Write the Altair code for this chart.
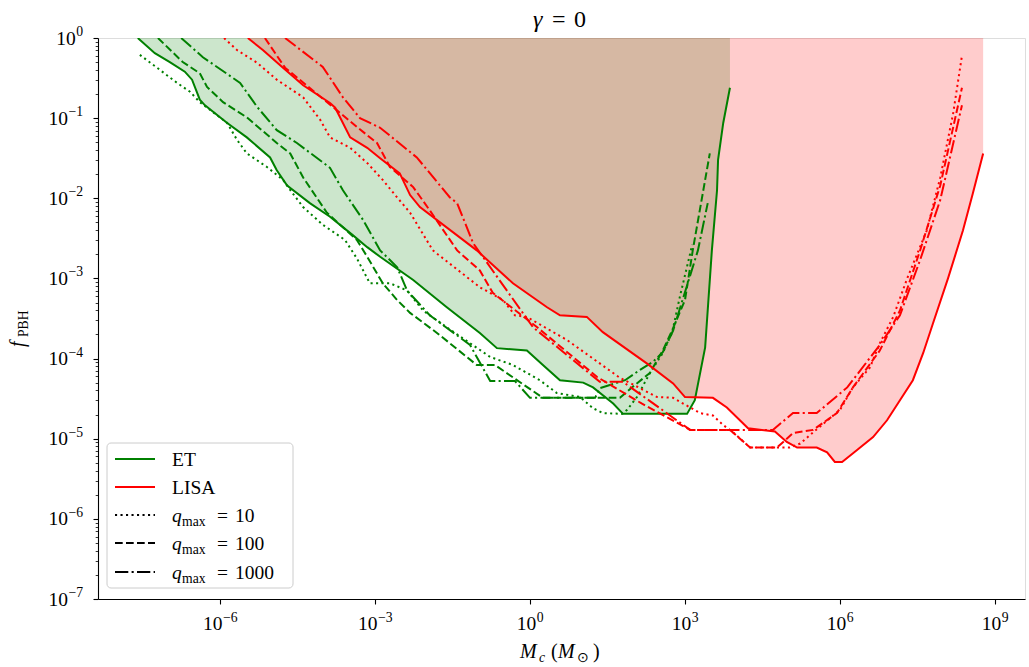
import altair as alt
import pandas as pd

GREEN = "#008000"
RED = "#ff0000"
SERIF = "Liberation Serif"

# Each curve is stored as log10(M_c / M_sun) and log10(f_PBH)
et_solid_logm = [-7.59, -7.26, -6.97, -6.68, -6.54, -6.39, -6.29, -5.86, -5.48, -5.03, -4.90, -4.70,
                 -4.26, -3.87, -3.43, -3.15, -2.90, -2.26, -1.61, -0.97, -0.64, -0.06, 0.25, 0.58,
                 1.03, 1.22, 1.61, 1.80, 3.04, 3.19, 3.39, 3.52, 3.62, 3.64, 3.74, 3.87]
et_solid_logf = [0.0, -0.19, -0.30, -0.42, -0.52, -0.77, -0.84, -1.06, -1.24, -1.49, -1.65, -1.84,
                 -2.06, -2.23, -2.46, -2.61, -2.73, -3.02, -3.36, -3.68, -3.87, -3.90, -4.08, -4.27,
                 -4.30, -4.36, -4.56, -4.69, -4.69, -4.52, -3.86, -2.65, -1.90, -1.52, -1.06, -0.62]

et_q10_logm = [-7.55, -7.22, -6.83, -6.58, -6.39, -5.86, -5.67, -5.48, -5.09, -4.78, -4.59, -4.39,
               -4.01, -3.58, -3.35, -3.10, -2.71, -2.38, -2.07, -1.61, -0.77, -0.33, 0.19, 0.52,
               0.97, 1.22, 1.41, 1.78, 1.88, 2.07, 2.32, 2.57, 2.75, 2.90, 3.14]
et_q10_logf = [-0.21, -0.37, -0.56, -0.67, -0.80, -1.06, -1.27, -1.44, -1.61, -1.77, -1.94, -2.11,
               -2.33, -2.52, -2.75, -3.06, -3.06, -3.15, -3.40, -3.61, -3.98, -4.08, -4.27, -4.43,
               -4.48, -4.62, -4.68, -4.69, -4.64, -4.48, -4.18, -3.93, -3.68, -3.23, -2.58]

et_q100_logm = [-7.20, -6.72, -6.39, -6.25, -5.94, -5.48, -4.90, -4.64, -4.39, -3.93, -3.35, -3.15,
                -2.85, -2.57, -2.32, -1.80, -1.03, -0.68, 0.25, 1.74, 2.03, 2.32, 2.57, 2.75,
                3.00, 3.15, 3.48]
et_q100_logf = [0.0, -0.30, -0.44, -0.61, -0.80, -0.99, -1.31, -1.44, -1.74, -2.18, -2.52, -2.73,
                -3.06, -3.27, -3.43, -3.68, -4.08, -4.08, -4.49, -4.49, -4.33, -4.18, -3.90, -3.65,
                -3.27, -2.65, -1.44]

et_q1000_logm = [-6.75, -6.33, -5.61, -5.28, -4.90, -4.51, -3.87, -3.62, -3.23, -2.90, -2.57, -2.38,
                 -1.94, -1.16, -0.77, -0.29, 0.0, 1.26, 1.35, 1.84, 2.13, 2.38, 2.57, 2.77,
                 3.25, 3.44]
et_q1000_logf = [0.0, -0.24, -0.56, -0.86, -1.15, -1.31, -1.62, -1.90, -2.27, -2.65, -2.86, -3.15,
                 -3.46, -3.83, -4.28, -4.28, -4.49, -4.49, -4.37, -4.27, -4.14, -4.04, -3.92, -3.65,
                 -2.65, -2.06]

lisa_solid_logm = [-5.46, -5.17, -4.78, -4.39, -3.87, -3.77, -3.48, -3.15, -2.90, -2.52, -2.32, -2.13,
                   -1.03, -0.33, 0.33, 0.58, 1.10, 1.41, 2.26, 2.77, 3.00, 3.54, 3.81, 4.22,
                   4.74, 4.97, 5.17, 5.55, 5.75, 5.90, 6.04, 6.33, 6.64, 6.91, 7.16, 7.41,
                   7.61, 7.80, 8.09, 8.38, 8.57, 8.77]
lisa_solid_logf = [0.0, -0.15, -0.37, -0.59, -0.81, -0.87, -1.24, -1.37, -1.50, -1.69, -1.96, -2.11,
                   -2.65, -3.06, -3.36, -3.46, -3.48, -3.67, -4.06, -4.31, -4.48, -4.49, -4.61, -4.87,
                   -4.91, -5.04, -5.11, -5.11, -5.17, -5.29, -5.29, -5.14, -4.98, -4.77, -4.52, -4.27,
                   -3.93, -3.56, -3.00, -2.40, -1.94, -1.44]

lisa_q10_logm = [-5.92, -5.67, -5.28, -4.90, -4.39, -4.06, -3.87, -3.48, -3.15, -2.85, -2.57, -2.32,
                 -1.88, -0.97, -0.52, -0.29, -0.06, 0.72, 1.74, 2.46, 2.77, 3.29, 3.54, 3.74,
                 3.93, 4.26, 5.03, 5.23, 5.48, 6.00, 6.25, 6.58, 6.77, 7.03, 7.30, 7.68,
                 7.94, 8.19, 8.36]
lisa_q10_logf = [0.0, -0.15, -0.31, -0.52, -0.74, -1.02, -1.24, -1.37, -1.56, -1.77, -1.99, -2.18,
                 -2.65, -3.11, -3.27, -3.46, -3.48, -3.77, -4.24, -4.48, -4.49, -4.68, -4.71, -4.83,
                 -4.92, -5.11, -5.11, -5.06, -4.92, -4.64, -4.36, -4.11, -3.81, -3.48, -3.00, -2.40,
                 -1.74, -0.94, -0.22]

lisa_q100_logm = [-5.13, -4.74, -3.74, -3.35, -2.96, -2.71, -2.26, -1.94, -1.41, -0.97, -0.72, 0.14,
                  1.30, 2.16, 3.10, 3.87, 4.26, 4.78, 5.09, 5.48, 5.94, 6.25, 6.77, 7.16, 7.55,
                  7.94, 8.36]
lisa_q100_logf = [0.0, -0.37, -0.90, -1.11, -1.31, -1.61, -1.86, -2.15, -2.65, -2.90, -3.18, -3.61,
                  -4.23, -4.56, -4.89, -4.89, -5.11, -5.11, -4.93, -4.89, -4.68, -4.36, -3.90, -3.40,
                  -2.65, -1.84, -0.62]

lisa_q1000_logm = [-4.74, -4.01, -3.62, -3.29, -2.90, -2.19, -1.55, -1.41, -1.10, 0.06, 1.35, 1.80,
                   3.10, 4.70, 5.09, 5.55, 6.14, 6.77, 7.16, 7.55, 7.94, 8.36]
lisa_q1000_logf = [0.0, -0.36, -0.74, -1.00, -1.12, -1.49, -1.99, -2.06, -2.56, -3.61, -4.29, -4.29,
                   -4.89, -4.89, -4.68, -4.68, -4.36, -3.83, -3.46, -2.77, -2.02, -0.84]

# tick exponents for the two log axes
x_tick_exps = [-6, -3, 0, 3, 6, 9]
y_tick_exps = [-7, -6, -5, -4, -3, -2, -1, 0]

# matplotlib-like dash patterns for a 2 px line
DOT = [2.1, 3.4]
DASH = [7.7, 3.3]
DASHDOT = [13.3, 3.3, 2.1, 3.3]

series = [
    (et_solid_logm, et_solid_logf, GREEN, None),
    (et_q10_logm, et_q10_logf, GREEN, DOT),
    (et_q100_logm, et_q100_logf, GREEN, DASH),
    (et_q1000_logm, et_q1000_logf, GREEN, DASHDOT),
    (lisa_solid_logm, lisa_solid_logf, RED, None),
    (lisa_q10_logm, lisa_q10_logf, RED, DOT),
    (lisa_q100_logm, lisa_q100_logf, RED, DASH),
    (lisa_q1000_logm, lisa_q1000_logf, RED, DASHDOT),
]


def frame(logm, logf):
    return pd.DataFrame({
        "M": [10.0 ** v for v in logm],
        "f": [10.0 ** v for v in logf],
        "top": [1.0] * len(logm),
        "i": list(range(len(logm))),
    })


W, H = 927, 561
LEFT, TOP = 98, 38
FS = 19.5          # main text size
FSUB = 13.7        # sub/superscript size

x_scale = alt.Scale(type="log", domain=[10 ** -8.36, 10 ** 9.58], nice=False)
y_scale = alt.Scale(type="log", domain=[1e-7, 1.0], nice=False)

LOGV = "(log(datum.value)/LN10)"
IS_MAJOR = f"abs({LOGV} - round({LOGV})) < 0.001"

x_axis = alt.Axis(
    values=[10.0 ** e for e in x_tick_exps], labels=False,
    title=None, grid=False, tickSize=5, tickWidth=1.1, tickColor="black",
    domainColor="black", domainWidth=1.1,
)

y_ticks = []
for e in range(-7, 1):
    for k in range(1, 10):
        v = k * 10.0 ** e
        if v <= 1.0 + 1e-12:
            y_ticks.append(v)

y_axis = alt.Axis(
    values=y_ticks, labels=False, title=None, grid=False,
    tickSize={"condition": {"test": IS_MAJOR, "value": 5}, "value": 2.8},
    tickWidth={"condition": {"test": IS_MAJOR, "value": 1.1}, "value": 0.8},
    tickColor="black", domainColor="black", domainWidth=1.1,
)

X = alt.X("M:Q", scale=x_scale, axis=x_axis)
Y = alt.Y("f:Q", scale=y_scale, axis=y_axis)

layers = []

# shaded detectable regions (between each solid curve and f_PBH = 1)
for logm, logf, color in [(et_solid_logm, et_solid_logf, GREEN), (lisa_solid_logm, lisa_solid_logf, RED)]:
    layers.append(
        alt.Chart(frame(logm, logf)).mark_area(color=color, fillOpacity=0.2, strokeWidth=0).encode(
            x=X, y=Y, y2="top:Q",
        )
    )

for logm, logf, color, dash in series:
    kw = dict(color=color, strokeWidth=2, clip=True)
    if dash is not None:
        kw["strokeDash"] = dash
    layers.append(
        alt.Chart(frame(logm, logf)).mark_line(**kw).encode(
            x=X, y=Y, order=alt.Order("i:Q"),
        )
    )

one = pd.DataFrame({"k": [0]})


def text_kw(s, size, italic, align, angle, dx=0, dy=0):
    kw = dict(text=s, font=SERIF, fontSize=size, color="black", align=align, baseline="alphabetic")
    if italic:
        kw["fontStyle"] = "italic"
    if angle:
        kw["angle"] = angle
    if dx:
        kw["dx"] = dx
    if dy:
        kw["dy"] = dy
    return kw


def text(s, x, y, size=FS, italic=False, align="left", angle=0):
    return alt.Chart(one).mark_text(**text_kw(s, size, italic, align, angle)).encode(
        x=alt.value(x), y=alt.value(y))


def exp_str(e):
    return ("−" if e < 0 else "") + str(abs(e))


def exp_width(e):
    return (0.564 * FSUB if e < 0 else 0) + 0.5 * FSUB * len(str(abs(e)))


# tick labels 10^n, placed through the axis scales
BASE_W = 2 * 0.5 * FS
for e in x_tick_exps:
    d = pd.DataFrame({"M": [10.0 ** e]})
    we = exp_width(e)
    split = (BASE_W - we) / 2
    layers.append(alt.Chart(d).mark_text(**text_kw("10", FS, False, "right", 0, dx=split)).encode(
        x=X, y=alt.value(H + 31)))
    layers.append(alt.Chart(d).mark_text(**text_kw(exp_str(e), FSUB, False, "left", 0, dx=split + 0.5)).encode(
        x=X, y=alt.value(H + 23)))

for e in y_tick_exps:
    d = pd.DataFrame({"f": [10.0 ** e]})
    we = exp_width(e)
    layers.append(alt.Chart(d).mark_text(**text_kw("10", FS, False, "right", 0, dy=6.5)).encode(
        x=alt.value(-15 - we - 0.5), y=Y))
    layers.append(alt.Chart(d).mark_text(**text_kw(exp_str(e), FSUB, False, "right", 0, dy=-2)).encode(
        x=alt.value(-15), y=Y))

# legend
layers.append(
    alt.Chart(one).mark_rect(fill="white", fillOpacity=0.8, stroke="#cccccc", strokeWidth=1,
                             cornerRadius=4).encode(
        x=alt.value(107 - LEFT), x2=alt.value(293 - LEFT),
        y=alt.value(443 - TOP), y2=alt.value(588 - TOP),
    )
)
legend_rows = [
    ("ET", GREEN, None),
    ("LISA", RED, None),
    ("10", "black", DOT),
    ("100", "black", DASH),
    ("1000", "black", DASHDOT),
]
row_y = [459, 487, 515, 543, 572]
for (label, color, dash), ry in zip(legend_rows, row_y):
    yy = ry - TOP
    kw = dict(color=color, strokeWidth=2)
    if dash is not None:
        kw["strokeDash"] = dash
    layers.append(
        alt.Chart(one).mark_rule(**kw).encode(
            x=alt.value(115 - LEFT), x2=alt.value(155 - LEFT), y=alt.value(yy)
        )
    )
    base = yy + 7
    if dash is None:
        layers.append(text(label, 172 - LEFT, base))
    else:
        layers.append(text("q", 172 - LEFT, base, italic=True))
        layers.append(text("max", 182 - LEFT, base + 4, size=FSUB))
        layers.append(text("=", 217 - LEFT, base))
        layers.append(text(label, 235 - LEFT, base))

# title: gamma = 0
layers.append(text("γ", 533 - LEFT, 27 - TOP, size=24, italic=True))
layers.append(text("=", 552 - LEFT, 27 - TOP, size=24))
layers.append(text("0", 574 - LEFT, 27 - TOP, size=24))

# x-axis title: M_c (M_sun)
layers.append(text("M", 520 - LEFT, 658 - TOP, size=20, italic=True))
layers.append(text("c", 539 - LEFT, 662 - TOP, size=FSUB, italic=True))
layers.append(text("(", 551 - LEFT, 658 - TOP, size=20))
layers.append(text("M", 558 - LEFT, 658 - TOP, size=20, italic=True))
layers.append(text("⊙", 577 - LEFT, 662 - TOP, size=FSUB))
layers.append(text(")", 593 - LEFT, 658 - TOP, size=20))

# y-axis title: f_PBH (rotated)
layers.append(text("f", 24 - LEFT, 347 - TOP, size=20, italic=True, angle=270))
layers.append(text("PBH", 28 - LEFT, 337 - TOP, size=FSUB, angle=270))

chart = alt.layer(*layers).properties(
    width=W, height=H,
    autosize=alt.AutoSizeParams(type="none"),
    padding={"left": LEFT, "top": TOP, "right": 1029 - LEFT - W, "bottom": 667 - TOP - H},
).configure_view(stroke="black", strokeWidth=1.1).configure(background="white")

chart.save("out.html", embed_options={"renderer": "svg", "actions": False})
